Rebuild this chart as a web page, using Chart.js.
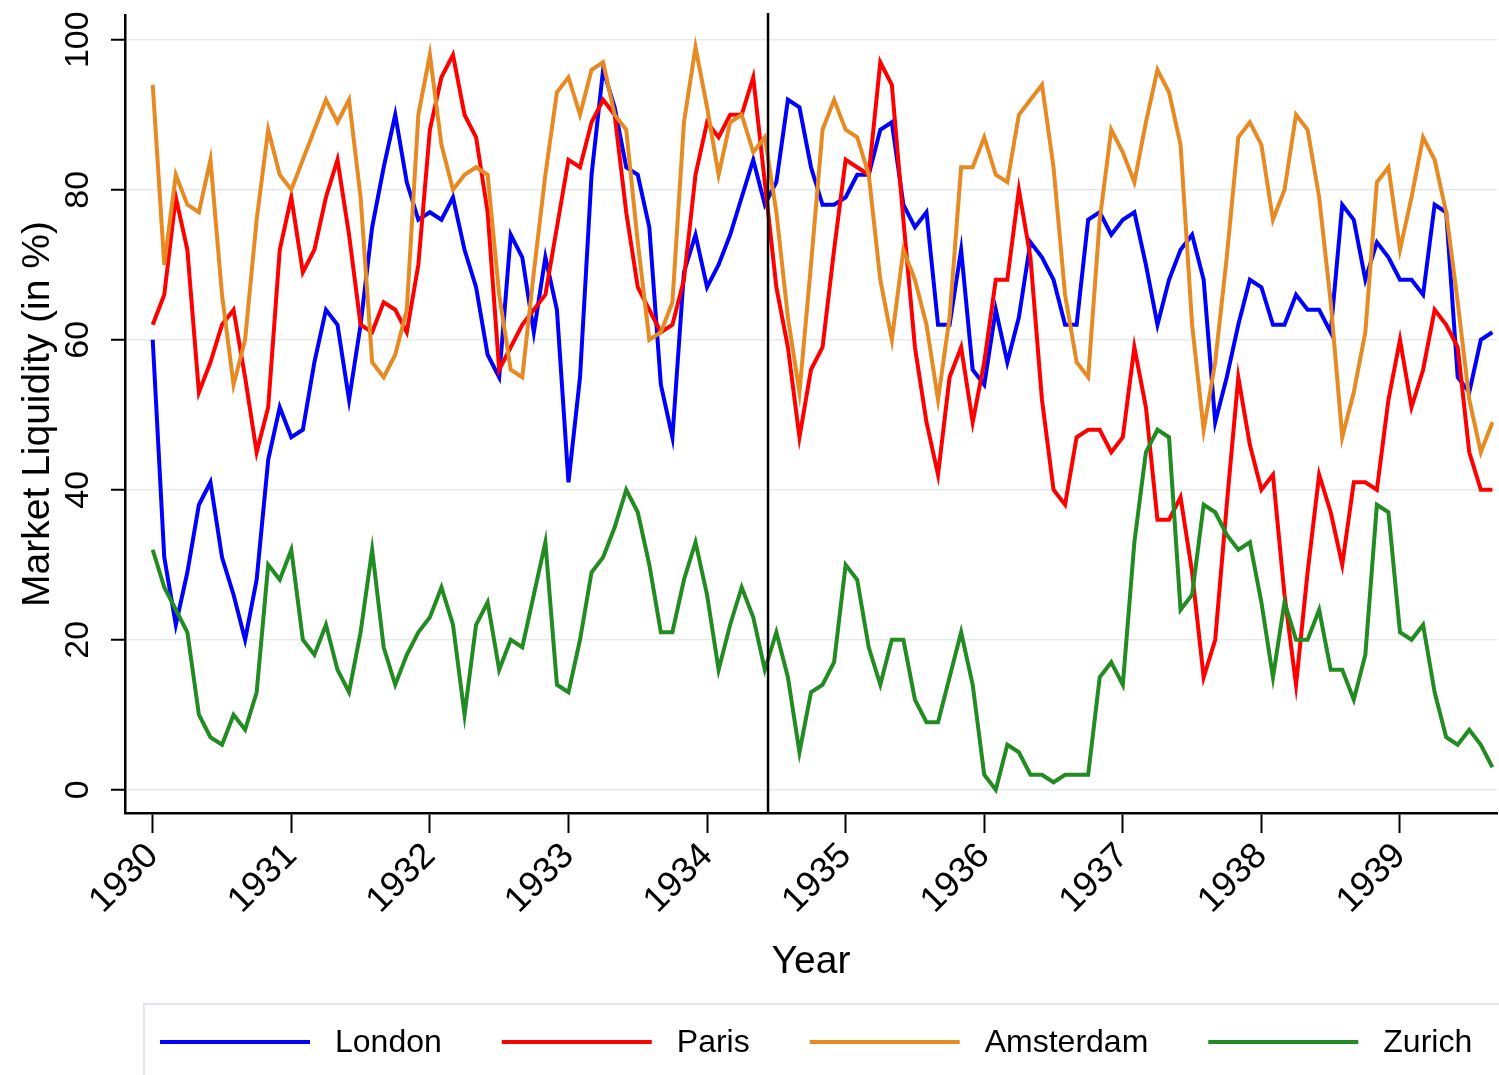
<!DOCTYPE html>
<html>
<head>
<meta charset="utf-8">
<title>Market Liquidity</title>
<script src="https://cdn.jsdelivr.net/npm/chart.js@4.4.1/dist/chart.umd.min.js"></script>
<style>
  html,body{margin:0;padding:0;background:#fff;}
  canvas{display:block;}
</style>
</head>
<body>
<canvas id="chart" width="1499" height="1075"></canvas>
<script>
// Monthly values, Jan 1930 - Sep 1939
const startYear = 1930;

const london = [
  60,31,22,29,38,41,31,26,20,28,
  44,51,47,48,57,64,62,52,62,75,
  83,90,81,76,77,76,79,72,67,58,
  55,74,71,61,71,64,41,55,82,96,
  91,83,82,75,54,47,69,74,67,70,
  74,79,84,78,81,92,91,83,78,78,
  79,82,82,88,89,78,75,77,62,62,
  72,56,54,64,57,63,73,71,68,62,
  62,76,77,74,76,77,70,62,68,72,
  74,68,49,55,62,68,67,62,62,66,
  64,64,61,78,76,68,73,71,68,68,
  66,78,77,55,53,60,61
];

const paris = [
  62,66,79,72,53,57,62,64,55,45,
  51,72,79,69,72,79,84,74,62,61,
  65,64,61,70,88,95,98,90,87,77,
  56,59,62,64,66,75,84,83,89,92,
  90,77,67,64,61,62,68,82,89,87,
  90,90,95,81,67,59,47,56,59,72,
  84,83,82,97,94,76,59,49,42,55,
  59,49,57,68,68,80,71,52,40,38,
  47,48,48,45,47,59,51,36,36,39,
  29,15,20,38,55,46,40,42,26,14,
  29,42,37,30,41,41,40,52,60,51,
  56,64,62,59,45,40,40
];

const amsterdam = [
  94,70,82,78,77,84,66,54,60,76,
  88,82,80,84,88,92,89,92,79,57,
  55,58,64,90,98,86,80,82,83,82,
  66,56,55,69,82,93,95,90,96,97,
  90,88,73,60,61,65,89,99,91,82,
  89,90,85,87,77,63,53,70,88,92,
  88,87,82,68,60,72,68,62,52,63,
  83,83,87,82,81,90,92,94,83,66,
  57,55,76,88,85,81,89,96,93,86,
  62,48,57,71,87,89,86,76,80,90,
  88,79,65,47,53,61,81,83,72,79,
  87,84,77,65,52,45,49
];

const zurich = [
  32,27,24,21,10,7,6,10,8,13,
  30,28,32,20,18,22,16,13,21,32,
  19,14,18,21,23,27,22,10,22,25,
  16,20,19,26,33,14,13,20,29,31,
  35,40,37,30,21,21,28,33,26,16,
  22,27,23,16,21,15,5,13,14,17,
  30,28,19,14,20,20,12,9,9,15,
  21,14,2,0,6,5,2,2,1,2,
  2,2,15,17,14,33,45,48,47,24,
  26,38,37,34,32,33,25,15,25,20,
  20,24,16,16,12,18,38,37,21,20,
  22,13,7,6,8,6,3
];

const cities = ["London","Paris","Amsterdam","Zurich"];
const colors = ["#0000ff","#ff0000","#e68a24","#228b22"];
const yearTicks = [1930,1931,1932,1933,1934,1935,1936,1937,1938,1939];
const yTicks = [0,20,40,60,80,100];
const breakYear = 1934.44;

const fontFamily = '"Liberation Sans", Arial, sans-serif';
Chart.defaults.font.family = fontFamily;
Chart.defaults.color = "#000";

// month index -> decimal year
const months = london.map((v,i)=>startYear + i/12);
function points(values){
  return values.map((v,i)=>({x:months[i], y:v}));
}

// Break line, rotated y labels and the legend box
const extras = {
  id:"extras",
  afterDatasetsDraw(chart){
    const {ctx, chartArea, scales:{x}} = chart;
    const px = x.getPixelForValue(breakYear);
    ctx.save();
    ctx.strokeStyle = "#000";
    ctx.lineWidth = 2.5;
    ctx.beginPath();
    ctx.moveTo(px, chartArea.top - 2);
    ctx.lineTo(px, chartArea.bottom);
    ctx.stroke();
    ctx.restore();
  },
  afterDraw(chart){
    const {ctx, scales:{y}} = chart;
    ctx.save();
    ctx.fillStyle = "#000";
    ctx.font = "34px " + fontFamily;
    ctx.textAlign = "center";
    ctx.textBaseline = "middle";
    yTicks.forEach(v=>{
      ctx.save();
      ctx.translate(79, y.getPixelForValue(v));
      ctx.rotate(-Math.PI/2);
      ctx.fillText(String(v), 0, 0);
      ctx.restore();
    });

    // legend
    ctx.strokeStyle = "#dfe5ea";
    ctx.lineWidth = 2;
    ctx.strokeRect(144, 1004, 1400, 100);
    ctx.font = "32px " + fontFamily;
    ctx.textAlign = "left";
    let lx = 160;
    cities.forEach((name,i)=>{
      ctx.strokeStyle = colors[i];
      ctx.lineWidth = 4;
      ctx.beginPath();
      ctx.moveTo(lx, 1042);
      ctx.lineTo(lx + 150, 1042);
      ctx.stroke();
      ctx.fillText(name, lx + 175, 1043);
      lx += 175 + ctx.measureText(name).width + 60;
    });
    ctx.restore();
  }
};

const series = [london, paris, amsterdam, zurich];

new Chart(document.getElementById("chart"),{
  type:"line",
  data:{
    datasets: cities.map((name,i)=>({
      label:name,
      data:points(series[i]),
      borderColor:colors[i],
      backgroundColor:colors[i],
      borderWidth:4,
      pointRadius:0,
      tension:0,
      order:3 - i
    }))
  },
  options:{
    responsive:false,
    animation:false,
    devicePixelRatio:1,
    layout:{padding:{top:15, right:2, bottom:75, left:0}},
    plugins:{legend:{display:false}, tooltip:{enabled:false}},
    scales:{
      x:{
        type:"linear",
        min:1929.8,
        max:1939.7,
        afterBuildTicks(s){ s.ticks = yearTicks.map(v=>({value:v})); },
        afterFit(s){ s.height = 187; },
        ticks:{autoSkip:false, minRotation:45, maxRotation:45, padding:2, font:{size:36}, callback:v=>String(v)},
        grid:{drawOnChartArea:false, tickLength:20, tickColor:"#000", tickWidth:2},
        border:{color:"#000", width:2.5},
        title:{display:true, text:"Year", font:{size:39}, padding:{top:0, bottom:14}}
      },
      y:{
        min:-3.1,
        max:103.3,
        afterBuildTicks(s){ s.ticks = yTicks.map(v=>({value:v})); },
        afterFit(s){ s.width = 125; },
        ticks:{display:false},
        grid:{color:"#e3ebef", lineWidth:1.5, tickLength:14, tickColor:"#000", tickWidth:2},
        border:{color:"#000", width:2.5},
        title:{display:true, text:"Market Liquidity (in %)", font:{size:39}, padding:{top:15, bottom:0}}
      }
    }
  },
  plugins:[extras]
});
</script>
</body>
</html>
